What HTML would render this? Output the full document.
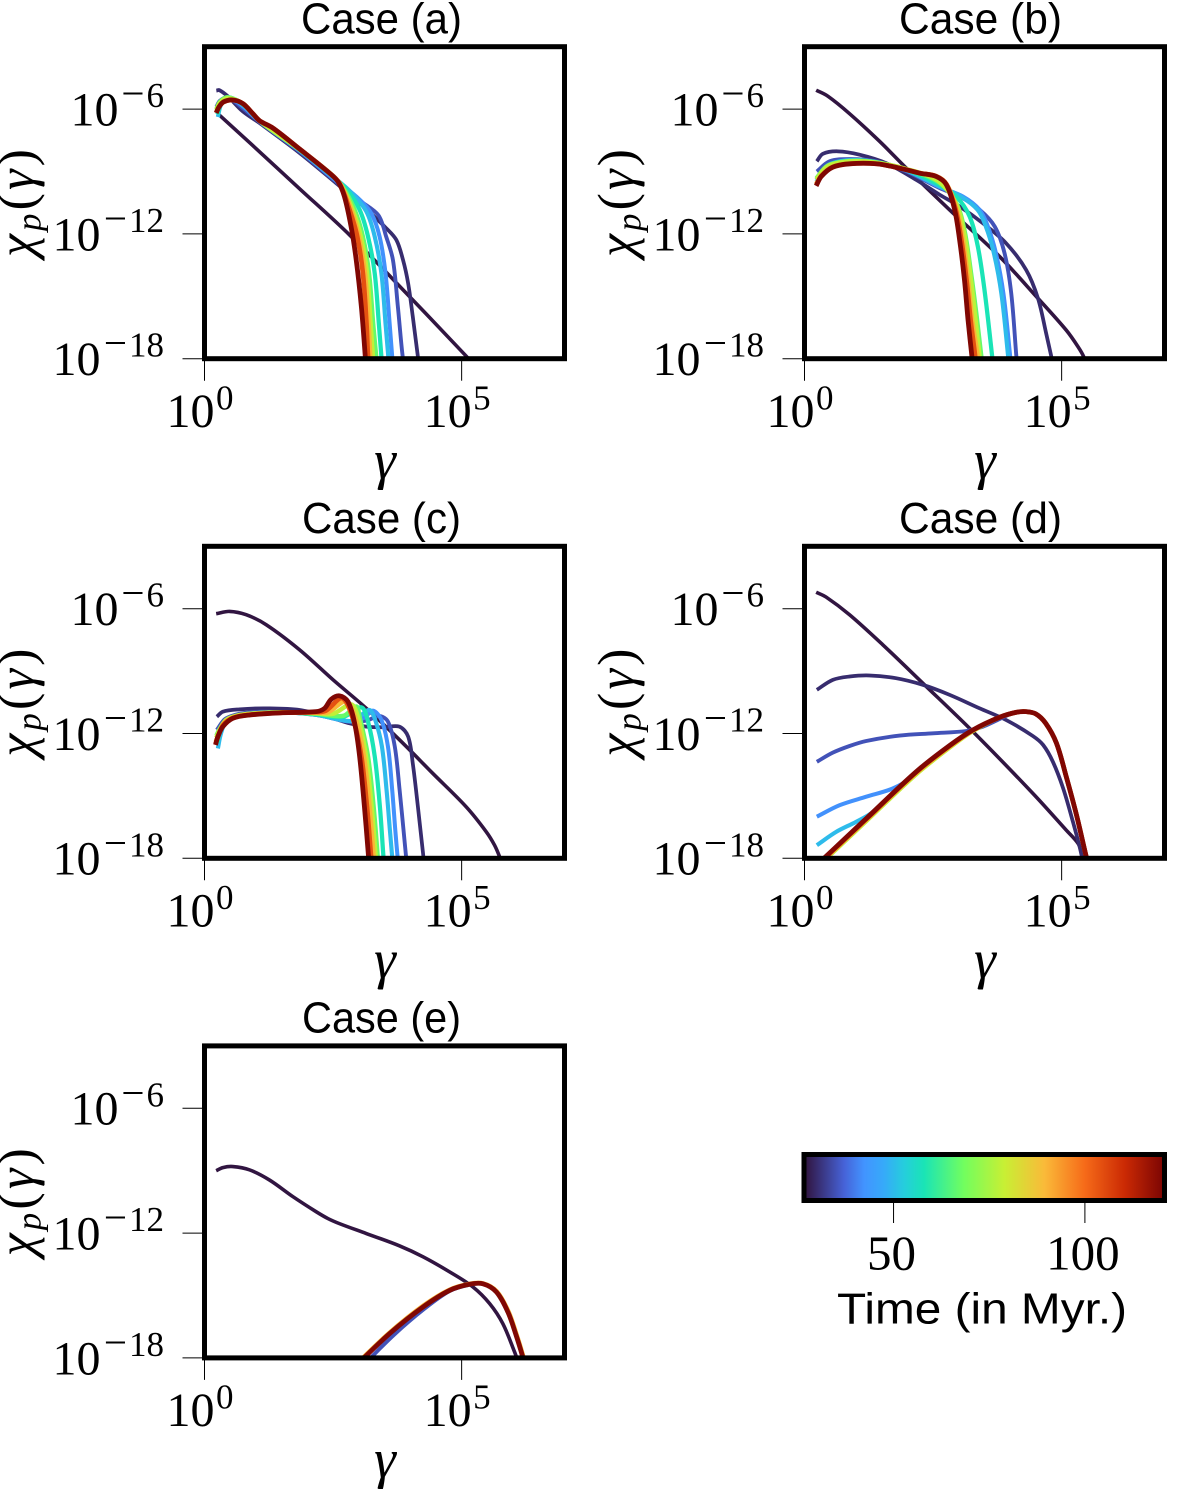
<!DOCTYPE html>
<html lang="en">
<head>
<meta charset="utf-8">
<title>Proton spectra chi_p(gamma) for five cases</title>
<style>
  html, body { margin: 0; padding: 0; background: #fff; }
  svg { display: block; }
  .serif { font-family: "Liberation Serif", serif; fill: #000; }
  .sans { font-family: "Liberation Sans", sans-serif; fill: #000; }
</style>
</head>
<body>
<svg id="figure" xmlns="http://www.w3.org/2000/svg" width="1200" height="1497" viewBox="0 0 1200 1497">
  <defs>
    <linearGradient id="turbo-gradient" x1="0" x2="1" y1="0" y2="0"></linearGradient>
    <clipPath id="plot-clip"><rect x="0" y="0" width="360" height="312"></rect></clipPath>
  </defs>

  <g id="panels"></g>

  <g>
    <text class="sans" x="301" y="33.3" font-size="44" textLength="161" lengthAdjust="spacingAndGlyphs">Case (a)</text>
    <text class="sans" x="899" y="33.3" font-size="44" textLength="163" lengthAdjust="spacingAndGlyphs">Case (b)</text>
    <text class="sans" x="302" y="532.9" font-size="44" textLength="159" lengthAdjust="spacingAndGlyphs">Case (c)</text>
    <text class="sans" x="899" y="532.9" font-size="44" textLength="163" lengthAdjust="spacingAndGlyphs">Case (d)</text>
    <text class="sans" x="302" y="1032.5" font-size="44" textLength="159" lengthAdjust="spacingAndGlyphs">Case (e)</text>
  </g>

  <g font-size="55" font-style="italic" text-anchor="middle">
    <text class="serif" x="385" y="478.5">γ</text>
    <text class="serif" x="985" y="478.5">γ</text>
    <text class="serif" x="385" y="978">γ</text>
    <text class="serif" x="985" y="978">γ</text>
    <text class="serif" x="385" y="1477.5">γ</text>
  </g>

  <g font-size="52">
    <text class="serif" transform="translate(33.5,257) rotate(-90)" textLength="108"><tspan font-style="italic">χ</tspan><tspan font-style="italic" font-size="35" dy="7">p</tspan><tspan dy="-7">(</tspan><tspan font-style="italic">γ</tspan><tspan>)</tspan></text>
    <text class="serif" transform="translate(633.5,257) rotate(-90)" textLength="108"><tspan font-style="italic">χ</tspan><tspan font-style="italic" font-size="35" dy="7">p</tspan><tspan dy="-7">(</tspan><tspan font-style="italic">γ</tspan><tspan>)</tspan></text>
    <text class="serif" transform="translate(33.5,756.6) rotate(-90)" textLength="108"><tspan font-style="italic">χ</tspan><tspan font-style="italic" font-size="35" dy="7">p</tspan><tspan dy="-7">(</tspan><tspan font-style="italic">γ</tspan><tspan>)</tspan></text>
    <text class="serif" transform="translate(633.5,756.6) rotate(-90)" textLength="108"><tspan font-style="italic">χ</tspan><tspan font-style="italic" font-size="35" dy="7">p</tspan><tspan dy="-7">(</tspan><tspan font-style="italic">γ</tspan><tspan>)</tspan></text>
    <text class="serif" transform="translate(33.5,1256.2) rotate(-90)" textLength="108"><tspan font-style="italic">χ</tspan><tspan font-style="italic" font-size="35" dy="7">p</tspan><tspan dy="-7">(</tspan><tspan font-style="italic">γ</tspan><tspan>)</tspan></text>
  </g>

  <g id="colorbar"></g>
  <text class="sans" x="837" y="1323.3" font-size="44" textLength="290" lengthAdjust="spacingAndGlyphs">Time (in Myr.)</text>
</svg>

<script>
// ---- axis tick values (log10 units) ----
const xTickExponents = [0, 5];
const yTickExponents = [-6, -12, -18];
const colorbarTicks = [50, 100];

// ---- snapshot times in Myr for each curve ----
const caseATimes = [27, 30, 35, 42, 50, 58, 67, 78, 90, 104, 120];
const caseBTimes = [27, 30, 35, 42, 50, 58, 67, 78, 90, 104, 120];
const caseCTimes = [27, 30, 35, 42, 50, 58, 67, 78, 90, 104, 120];
const caseDTimes = [27, 30, 35, 42, 50, 58, 67, 78, 90, 104, 120];
const caseETimes = [27, 35, 90, 120];

// ---- case (a): log10(gamma) ----
const caseAGamma = [
  [.26,.876,1.85,2.82,3.99,5.09,5.2],
  [.23,.29,.45,.74,1.07,1.85,2.56,3.02,3.535,3.73,3.86,3.96,4.05,4.15,4.2],
  [.23,.3,.45,.74,1.07,1.85,2.56,3.02,3.38,3.535,3.664,3.76,3.84,3.9],
  [.24,.3,.45,.74,1.07,1.85,2.56,2.95,3.24,3.405,3.52,3.6,3.65,3.68],
  [.26,.32,.45,.75,1.07,1.85,2.5,2.85,3.146,3.31,3.44,3.52,3.574,3.6],
  [.25,.32,.45,.75,1.07,1.85,2.45,2.76,3.016,3.18,3.31,3.39,3.44,3.47],
  [.23,.3,.45,.75,1.07,1.85,2.45,2.69,2.92,3.08,3.2,3.28,3.34,3.37],
  [.23,.3,.45,.75,1.07,1.85,2.45,2.66,2.88,3.04,3.16,3.23,3.275,3.3],
  [.23,.28,.37,.55,.75,.94,1.07,1.33,1.85,2.37,2.64,2.85,3.0,3.12,3.19,3.224,3.25],
  [.23,.28,.37,.55,.75,.94,1.07,1.33,1.85,2.37,2.62,2.82,2.97,3.08,3.15,3.18,3.21],
  [.227,.279,.37,.55,.746,.94,1.07,1.33,1.85,2.37,2.594,2.72,2.85,2.95,3.05,3.126,3.146]
];
// ---- case (a): log10(chi) ----
const caseAChi = [
  [-6.22,-7.61,-9.83,-12.05,-15.02,-17.88,-18.2],
  [-5.11,-5.09,-5.38,-6.1,-6.67,-8.11,-9.56,-10.52,-11.73,-12.29,-13.25,-14.38,-15.98,-17.91,-18.8],
  [-5.9,-5.6,-5.45,-5.95,-6.62,-8.05,-9.5,-10.4,-11.1,-12.15,-13.25,-15.5,-17.6,-18.8],
  [-6.15,-5.75,-5.45,-5.85,-6.6,-8.0,-9.45,-10.2,-11.0,-12.13,-13.9,-16.31,-17.91,-18.7],
  [-6.38,-5.8,-5.45,-5.8,-6.58,-7.98,-9.25,-10.0,-10.92,-12.13,-13.9,-16.31,-17.91,-18.7],
  [-6.25,-5.75,-5.43,-5.78,-6.57,-7.96,-9.15,-9.85,-10.84,-12.13,-13.9,-16.31,-17.91,-18.7],
  [-6.0,-5.65,-5.43,-5.76,-6.56,-7.95,-9.12,-9.75,-10.84,-12.13,-13.9,-16.31,-17.91,-18.7],
  [-6.05,-5.7,-5.48,-5.75,-6.56,-7.94,-9.1,-9.7,-10.84,-12.13,-13.9,-16.31,-17.91,-18.7],
  [-6.15,-5.9,-5.66,-5.57,-5.74,-6.22,-6.56,-6.91,-7.92,-8.95,-9.6,-10.84,-12.13,-13.9,-16.31,-17.91,-18.7],
  [-6.17,-5.9,-5.66,-5.56,-5.74,-6.22,-6.56,-6.91,-7.92,-8.95,-9.55,-10.84,-12.13,-13.9,-16.31,-17.91,-18.7],
  [-6.19,-5.91,-5.655,-5.56,-5.735,-6.22,-6.555,-6.91,-7.92,-8.95,-9.48,-10.2,-11.65,-13.25,-15.5,-17.9,-18.7]
];

// ---- case (b) ----
const caseBGamma = [
  [.227,.454,.876,1.46,1.98,2.82,3.794,4.54,5.09,5.32,5.43,5.47],
  [.24,.357,.65,1.07,1.59,2.17,2.63,3.016,3.47,3.92,4.31,4.54,4.7,4.8,4.83],
  [.24,.487,.876,1.395,1.98,2.63,3.016,3.405,3.7,3.89,4.02,4.12,4.15],
  [.23,.45,.876,1.395,1.98,2.63,3.08,3.405,3.56,3.72,3.87,4.0,4.03],
  [.23,.45,.876,1.395,1.98,2.63,3.04,3.365,3.52,3.68,3.83,3.96,3.99],
  [.23,.45,.876,1.395,1.98,2.6,2.95,3.21,3.37,3.5,3.65,3.68],
  [.23,.45,.876,1.395,1.98,2.6,2.95,3.11,3.24,3.34,3.44,3.47],
  [.23,.45,.876,1.395,1.98,2.6,2.94,3.09,3.22,3.31,3.405,3.44],
  [.227,.325,.55,.876,1.395,1.85,2.24,2.56,2.76,2.96,3.08,3.18,3.26,3.37,3.40],
  [.227,.325,.55,.876,1.395,1.85,2.24,2.56,2.76,2.94,3.05,3.15,3.23,3.32,3.35],
  [.227,.325,.55,.876,1.395,1.85,2.24,2.56,2.76,2.92,3.016,3.11,3.18,3.256,3.29]
];
const caseBChi = [
  [-5.09,-5.38,-6.22,-7.55,-8.84,-10.84,-13.09,-15.1,-16.63,-17.43,-17.91,-18.3],
  [-8.51,-8.15,-8.03,-8.19,-8.6,-9.4,-10.12,-10.68,-11.49,-12.45,-13.73,-15.1,-16.79,-17.91,-18.3],
  [-9.0,-8.51,-8.4,-8.51,-9,-9.8,-10.2,-10.84,-11.65,-12.93,-14.86,-17.91,-18.7],
  [-9.35,-8.7,-8.45,-8.55,-8.95,-9.75,-10.2,-10.84,-11.6,-12.9,-14.9,-17.9,-18.7],
  [-9.5,-8.72,-8.47,-8.55,-8.95,-9.72,-10.2,-10.84,-11.6,-12.9,-14.9,-17.9,-18.7],
  [-9.4,-8.72,-8.48,-8.55,-8.92,-9.6,-10.2,-11.16,-12.6,-14.7,-17.91,-18.7],
  [-9.32,-8.72,-8.5,-8.56,-8.9,-9.5,-10.52,-11.81,-13.9,-15.8,-17.91,-18.7],
  [-9.38,-8.75,-8.52,-8.58,-8.88,-9.45,-10.52,-11.81,-13.9,-15.8,-17.91,-18.7],
  [-9.6,-9.2,-8.78,-8.62,-8.62,-8.83,-9.07,-9.22,-9.6,-10.84,-12.29,-14.2,-16.14,-17.91,-18.7],
  [-9.66,-9.22,-8.78,-8.63,-8.63,-8.84,-9.08,-9.23,-9.62,-10.84,-12.29,-14.2,-16.14,-17.91,-18.7],
  [-9.69,-9.24,-8.79,-8.63,-8.63,-8.84,-9.08,-9.24,-9.64,-10.84,-12.29,-14.2,-16.14,-17.91,-18.7]
];

// ---- case (c) ----
const caseCGamma = [
  [.227,.487,.81,1.2,1.85,2.5,3.146,3.794,4.44,5.09,5.48,5.64,5.74,5.77],
  [.24,.357,.68,1.2,1.85,2.5,2.82,3.146,3.47,3.79,3.96,4.05,4.15,4.25,4.27],
  [.24,.42,.876,1.52,2.17,2.82,3.146,3.405,3.567,3.7,3.794,3.87,3.92,3.94],
  [.24,.3,.42,.62,.876,1.52,2.17,2.82,3.1,3.275,3.44,3.567,3.65,3.71,3.755,3.78],
  [.26,.32,.42,.62,.876,1.52,2.17,2.82,3.0,3.21,3.33,3.45,3.54,3.605,3.65,3.67],
  [.25,.3,.42,.62,.876,1.52,2.17,2.7,3.05,3.18,3.31,3.41,3.48,3.5],
  [.23,.3,.42,.62,.876,1.52,2.17,2.7,2.95,3.016,3.18,3.29,3.37,3.39],
  [.23,.3,.42,.62,.876,1.52,2.17,2.5,2.85,2.98,3.14,3.25,3.33,3.35],
  [.22,.28,.38,.57,.876,1.52,2.17,2.4,2.75,2.94,3.1,3.21,3.29,3.31],
  [.215,.27,.36,.55,.876,1.52,2.17,2.36,2.68,2.9,3.05,3.16,3.24,3.26],
  [.214,.26,.357,.55,.876,1.52,2.17,2.335,2.465,2.627,2.79,2.92,3.016,3.11,3.19,3.21]
];
const caseCChi = [
  [-6.24,-6.13,-6.29,-6.77,-7.98,-9.42,-10.79,-12.31,-13.92,-15.53,-16.73,-17.37,-17.94,-18.2],
  [-11.19,-10.95,-10.84,-10.79,-10.87,-11.27,-11.51,-11.67,-11.7,-11.67,-12.15,-13.44,-15.53,-17.77,-18.4],
  [-11.83,-11.27,-10.98,-10.98,-11.11,-11.43,-11.38,-11.16,-11.43,-12.63,-14.72,-16.65,-17.94,-18.4],
  [-12.4,-11.9,-11.4,-11.2,-11.05,-10.98,-11.1,-11.42,-11.25,-10.9,-11.35,-12.63,-14.72,-16.65,-17.94,-18.5],
  [-12.72,-12.0,-11.42,-11.2,-11.05,-10.98,-11.1,-11.4,-11.2,-10.87,-11.43,-12.63,-14.72,-16.65,-17.94,-18.5],
  [-12.45,-11.9,-11.4,-11.18,-11.05,-10.98,-11.08,-11.2,-10.74,-11.43,-13.1,-15.5,-17.94,-18.5],
  [-12.1,-11.75,-11.35,-11.15,-11.05,-10.98,-11.05,-11.15,-10.7,-11.19,-13.1,-15.53,-17.94,-18.5],
  [-12.2,-11.8,-11.35,-11.15,-11.05,-10.98,-11.02,-11.05,-10.6,-11.19,-13.1,-15.53,-17.94,-18.5],
  [-12.4,-12.0,-11.5,-11.22,-11.08,-11.0,-11.0,-10.98,-10.45,-11.3,-13.1,-15.53,-17.94,-18.5],
  [-12.5,-12.1,-11.6,-11.25,-11.1,-11.0,-10.97,-10.9,-10.3,-11.4,-13.1,-15.53,-17.94,-18.5],
  [-12.55,-12.15,-11.67,-11.27,-11.11,-11.0,-10.95,-10.79,-10.35,-10.19,-10.47,-11.51,-13.1,-15.53,-17.94,-18.6]
];

// ---- case (d) ----
const caseDGamma = [
  [.227,.42,.876,1.52,2.3,3.275,4.44,5.09,5.32,5.415,5.45],
  [.24,.55,.876,1.265,1.78,2.3,2.82,3.405,3.92,4.44,4.64,4.83,5.03,5.22,5.35,5.4,5.43],
  [.24,.55,.876,1.2,1.85,2.5,3.146,3.47,3.73,4.05,4.31,4.5,4.69,4.9,5.09,5.29,5.48,5.53],
  [.24,.68,1.2,1.72,2.11,2.37,2.82,3.275,3.794,4.12,4.31,4.5,4.69,4.9,5.09,5.29,5.48,5.53],
  [.24,.616,1.0,1.33,2.17,2.82,3.275,3.794,4.12,4.31,4.5,4.69,4.9,5.09,5.29,5.48,5.53],
  [.24,.52,1.2,2.17,2.82,3.275,3.794,4.12,4.31,4.5,4.69,4.9,5.09,5.29,5.48,5.53],
  [.24,.52,1.2,2.17,2.82,3.275,3.794,4.12,4.31,4.5,4.69,4.9,5.09,5.29,5.48,5.53],
  [.24,.52,1.2,2.17,2.82,3.275,3.794,4.12,4.31,4.5,4.69,4.9,5.09,5.29,5.48,5.53],
  [.24,.52,1.2,2.17,2.82,3.275,3.794,4.12,4.31,4.5,4.69,4.9,5.09,5.29,5.48,5.53],
  [.24,.52,1.2,2.17,2.82,3.275,3.794,4.12,4.31,4.5,4.69,4.9,5.09,5.29,5.48,5.53],
  [.24,.52,1.2,2.17,2.82,3.275,3.794,4.12,4.31,4.5,4.69,4.9,5.09,5.29,5.48,5.53]
];
const caseDChi = [
  [-5.21,-5.44,-6.29,-7.73,-9.58,-11.91,-14.88,-16.65,-17.29,-17.86,-18.1],
  [-9.9,-9.42,-9.26,-9.21,-9.34,-9.66,-10.14,-10.79,-11.35,-12.12,-12.55,-13.36,-14.64,-16.25,-17.45,-18.0,-18.4],
  [-13.36,-12.92,-12.6,-12.36,-12.1,-11.99,-11.88,-11.67,-11.38,-11.03,-10.95,-11.06,-11.51,-12.47,-14.08,-15.93,-17.94,-18.4],
  [-16.0,-15.45,-15.04,-14.64,-14.08,-13.45,-12.58,-11.83,-11.22,-10.98,-10.95,-11.06,-11.51,-12.47,-14.08,-15.93,-17.94,-18.4],
  [-17.37,-16.73,-16.25,-15.77,-13.84,-12.58,-11.83,-11.22,-10.98,-10.95,-11.06,-11.51,-12.47,-14.08,-15.93,-17.94,-18.4],
  [-18.38,-17.73,-16.15,-13.9,-12.63,-11.85,-11.22,-10.98,-10.95,-11.06,-11.51,-12.47,-14.08,-15.93,-17.94,-18.4],
  [-18.42,-17.77,-16.19,-13.94,-12.66,-11.87,-11.22,-10.98,-10.95,-11.06,-11.51,-12.47,-14.08,-15.93,-17.94,-18.4],
  [-18.44,-17.79,-16.21,-13.96,-12.68,-11.88,-11.22,-10.98,-10.95,-11.06,-11.51,-12.47,-14.08,-15.93,-17.94,-18.4],
  [-18.38,-17.73,-16.15,-13.9,-12.63,-11.85,-11.22,-10.98,-10.95,-11.06,-11.51,-12.47,-14.08,-15.93,-17.94,-18.4],
  [-18.35,-17.7,-16.12,-13.87,-12.6,-11.84,-11.22,-10.98,-10.95,-11.06,-11.51,-12.47,-14.08,-15.93,-17.94,-18.4],
  [-18.32,-17.67,-16.09,-13.84,-12.58,-11.83,-11.22,-10.98,-10.95,-11.06,-11.51,-12.47,-14.08,-15.93,-17.94,-18.4]
];

// ---- case (e) ----
const caseEGamma = [
  [.227,.357,.55,.876,1.265,1.72,2.17,2.4,2.63,3.146,3.79,4.25,4.77,5.22,5.545,5.8,6.03,6.1],
  [3.15,3.68,4.27,4.77,5.155,5.415,5.675,5.9,6.06,6.18,6.23],
  [2.93,3.58,4.25,4.77,5.155,5.415,5.68,5.91,6.07,6.19,6.24],
  [2.95,3.6,4.25,4.77,5.155,5.415,5.675,5.9,6.06,6.18,6.23]
];
const caseEChi = [
  [-9.0,-8.85,-8.8,-8.96,-9.45,-10.25,-10.97,-11.3,-11.55,-12.02,-12.61,-13.14,-13.87,-14.59,-15.39,-16.35,-17.72,-18.2],
  [-18.2,-16.9,-15.65,-14.78,-14.48,-14.44,-14.83,-15.8,-16.92,-17.88,-18.36],
  [-18.36,-16.83,-15.5,-14.72,-14.44,-14.42,-14.8,-15.77,-16.9,-17.86,-18.36],
  [-18.36,-16.83,-15.55,-14.75,-14.46,-14.44,-14.83,-15.8,-16.92,-17.88,-18.36]
];

// ---- turbo colour map (fraction, colour) ----
const turboFractions = [0, .111, .167, .222, .278, .333, .444, .556, .667, .778, .889, 1];
const turboColors = ['#30123B', '#4662D7', '#4294FF', '#36AAF9', '#25CEDC', '#1AE4B6', '#72FE5E', '#C8EF34', '#FABA39', '#F66B19', '#CB2A04', '#7A0403'];

const svgNS = 'http://www.w3.org/2000/svg';
const timeMin = 26.6;
const timeMax = 120.8;
const plotWidth = 360;
const plotHeight = 312;
const xDecades = 7;
const yTop = -3;
const yBottom = -18;

function xScale(exp) { return exp / xDecades * plotWidth; }
function yScale(exp) { return (yTop - exp) / (yTop - yBottom) * plotHeight; }
function timeScale(t) { return 804 + (t - timeMin) / (timeMax - timeMin) * 360.5; }

function hexToRgb(h) { return [1, 3, 5].map(function (i) { return parseInt(h.slice(i, i + 2), 16); }); }
function turbo(f) {
  let i = 0;
  while (i < turboFractions.length - 2 && f > turboFractions[i + 1]) i++;
  const s = Math.max(0, Math.min(1, (f - turboFractions[i]) / (turboFractions[i + 1] - turboFractions[i])));
  const a = hexToRgb(turboColors[i]);
  const b = hexToRgb(turboColors[i + 1]);
  return 'rgb(' + a.map(function (v, k) { return Math.round(v + (b[k] - v) * s); }).join(',') + ')';
}

function el(tag, parent) {
  const node = document.createElementNS(svgNS, tag);
  parent.appendChild(node);
  return node;
}

// smooth path through points (chord-length Catmull-Rom)
function smoothPath(xs, ys) {
  const pts = xs.map(function (x, i) { return [xScale(x), yScale(ys[i])]; });
  let d = 'M' + pts[0][0].toFixed(2) + ' ' + pts[0][1].toFixed(2);
  for (let i = 0; i < pts.length - 1; i++) {
    const p0 = pts[Math.max(0, i - 1)];
    const p1 = pts[i];
    const p2 = pts[i + 1];
    const p3 = pts[Math.min(pts.length - 1, i + 2)];
    const d1 = Math.hypot(p1[0] - p0[0], p1[1] - p0[1]);
    const d2 = Math.hypot(p2[0] - p1[0], p2[1] - p1[1]);
    const d3 = Math.hypot(p3[0] - p2[0], p3[1] - p2[1]);
    const k1 = d2 / 3 / ((d1 + d2) || 1);
    const k2 = d2 / 3 / ((d2 + d3) || 1);
    const c1 = [p1[0] + (p2[0] - p0[0]) * k1, p1[1] + (p2[1] - p0[1]) * k1];
    const c2 = [p2[0] - (p3[0] - p1[0]) * k2, p2[1] - (p3[1] - p1[1]) * k2];
    d += 'C' + c1[0].toFixed(2) + ' ' + c1[1].toFixed(2) + ' ' + c2[0].toFixed(2) + ' ' + c2[1].toFixed(2) + ' ' + p2[0].toFixed(2) + ' ' + p2[1].toFixed(2);
  }
  return d;
}

function addText(parent, name, x, y, size, str, anchor) {
  const t = el('text', parent);
  
  
  t.setAttribute('class', 'serif');
  t.setAttribute('x', x);
  t.setAttribute('y', y);
  t.setAttribute('font-size', size);
  t.setAttribute('text-anchor', anchor);
  t.textContent = str;
  return t;
}

function drawPanel(key, ox, oy, times, gammas, chis) {
  const root = document.getElementById('panels');
  const g = el('g', root);
  
  
  g.setAttribute('transform', 'translate(' + ox + ',' + oy + ')');

  const plot = el('g', g);
  
  
  plot.setAttribute('clip-path', 'url(#plot-clip)');

  times.forEach(function (t, i) {
    const f = (t - timeMin) / (timeMax - timeMin);
    const path = el('path', plot);
    
    
    path.setAttribute('d', smoothPath(gammas[i], chis[i]));
    path.setAttribute('fill', 'none');
    path.setAttribute('stroke', turbo(f));
    path.setAttribute('stroke-width', (3.5 + 1.3 * Math.sqrt(Math.max(0, f))).toFixed(2));
    path.setAttribute('stroke-linejoin', 'round');
  });

  const frame = el('rect', g);
  
  
  frame.setAttribute('x', 0);
  frame.setAttribute('y', 0);
  frame.setAttribute('width', plotWidth);
  frame.setAttribute('height', plotHeight);
  frame.setAttribute('fill', 'none');
  frame.setAttribute('stroke', '#000');
  frame.setAttribute('stroke-width', 5);

  xTickExponents.forEach(function (e) {
    const x = xScale(e);
    const tick = el('line', g);
    
    
    tick.setAttribute('x1', x);
    tick.setAttribute('x2', x);
    tick.setAttribute('y1', plotHeight);
    tick.setAttribute('y2', plotHeight + 22);
    tick.setAttribute('stroke', '#000');
    tick.setAttribute('stroke-width', 1);
    addText(g, 'x-tick-label-base-' + key + '-' + e, x - 38, plotHeight + 68.2, 48, '10', 'start');
    addText(g, 'x-tick-label-exp-' + key + '-' + e, x + 11.5, plotHeight + 50.6, 35, String(e), 'start');
  });

  yTickExponents.forEach(function (e) {
    const y = yScale(e);
    const tick = el('line', g);
    
    
    tick.setAttribute('x1', -22);
    tick.setAttribute('x2', 0);
    tick.setAttribute('y1', y);
    tick.setAttribute('y2', y);
    tick.setAttribute('stroke', '#000');
    tick.setAttribute('stroke-width', 1);
    const label = String(Math.abs(e));
    const wide = label.length > 1;
    addText(g, 'y-tick-label-base-' + key + '-' + e, wide ? -104 : -86, y + 16.4, 48, '10', 'end');
    const exp = addText(g, 'y-tick-label-exp-' + key + '-' + e, -40.5, y - 2, 35, '', 'end');
    const minus = el('tspan', exp);
    minus.setAttribute('font-size', 41);
    minus.textContent = '\u2212';
    const digits = el('tspan', exp);
    digits.setAttribute('dx', 2);
    digits.textContent = label;
  });
}

function drawColorbar() {
  const grad = document.getElementById('turbo-gradient');
  turboFractions.forEach(function (f, i) {
    const stop = el('stop', grad);
    stop.setAttribute('offset', f);
    stop.setAttribute('stop-color', turboColors[i]);
  });
  const cb = document.getElementById('colorbar');
  const bar = el('rect', cb);
  
  
  bar.setAttribute('x', 804);
  bar.setAttribute('y', 1154.5);
  bar.setAttribute('width', 360.5);
  bar.setAttribute('height', 46);
  bar.setAttribute('fill', 'url(#turbo-gradient)');
  bar.setAttribute('stroke', '#000');
  bar.setAttribute('stroke-width', 5);
  colorbarTicks.forEach(function (t) {
    const x = timeScale(t);
    const tick = el('line', cb);
    
    
    tick.setAttribute('x1', x);
    tick.setAttribute('x2', x);
    tick.setAttribute('y1', 1203);
    tick.setAttribute('y2', 1223);
    tick.setAttribute('stroke', '#000');
    tick.setAttribute('stroke-width', 1);
    addText(cb, 'colorbar-tick-label-' + t, x - 2, 1269.3, 49, String(t), 'middle');
  });
}

drawPanel('a', 204.5, 46.7, caseATimes, caseAGamma, caseAChi);
drawPanel('b', 804.5, 46.7, caseBTimes, caseBGamma, caseBChi);
drawPanel('c', 204.5, 546.3, caseCTimes, caseCGamma, caseCChi);
drawPanel('d', 804.5, 546.3, caseDTimes, caseDGamma, caseDChi);
drawPanel('e', 204.5, 1045.9, caseETimes, caseEGamma, caseEChi);
drawColorbar();
</script>
</body>
</html>
